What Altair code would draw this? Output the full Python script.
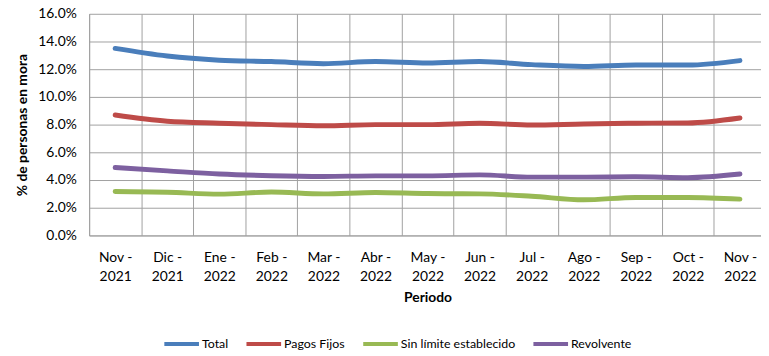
import altair as alt
import pandas as pd

periodos = ["Nov -|2021", "Dic -|2021", "Ene -|2022", "Feb -|2022", "Mar -|2022",
            "Abr -|2022", "May -|2022", "Jun -|2022", "Jul -|2022", "Ago -|2022",
            "Sep -|2022", "Oct -|2022", "Nov -|2022"]

total = [13.5, 12.95, 12.65, 12.55, 12.4, 12.55, 12.45, 12.55, 12.33, 12.2, 12.3, 12.3, 12.62]
pagos_fijos = [8.69, 8.24, 8.1, 8.0, 7.92, 8.0, 8.0, 8.1, 7.97, 8.05, 8.1, 8.12, 8.48]
sin_limite = [3.17, 3.12, 2.98, 3.13, 3.0, 3.1, 3.02, 3.0, 2.83, 2.57, 2.74, 2.74, 2.62]
revolvente = [4.9, 4.66, 4.43, 4.31, 4.26, 4.3, 4.3, 4.37, 4.21, 4.21, 4.24, 4.17, 4.43]

series = ["Total", "Pagos Fijos", "Sin límite establecido", "Revolvente"]
colores = ["#4A7EBB", "#BE4B48", "#98B954", "#7D60A0"]

rows = []
for name, vals in zip(series, [total, pagos_fijos, sin_limite, revolvente]):
    for p, v in zip(periodos, vals):
        rows.append({"Periodo": p, "Serie": name, "valor": v / 100.0})
df = pd.DataFrame(rows)

FONT = "Lato"
GRID = "#A0A0A0"

chart = alt.Chart(df).mark_line(
    interpolate="monotone", strokeWidth=5, strokeCap="round"
).encode(
    x=alt.X("Periodo:N", sort=periodos, bandPosition=0.5,
            scale=alt.Scale(type="band", paddingInner=0, paddingOuter=0, range=[0, 684]),
            axis=alt.Axis(title="Periodo", labelAngle=0, tickBand="extent",
                          labelExpr="isValid(datum.value) ? split(datum.value, '|') : ''",
                          labelLineHeight=20, labelPadding=15, ticks=False,
                          labelOverlap=False,
                          labelFont=FONT, labelFontSize=14, labelColor="#000000",
                          titleFont=FONT, titleFontSize=14, titleFontWeight="bold",
                          titleColor="#000000", titlePadding=7,
                          domainColor=GRID, gridColor=GRID, grid=True)),
    y=alt.Y("valor:Q",
            scale=alt.Scale(domain=[0, 0.16], nice=False),
            axis=alt.Axis(title="% de personas en mora", format=".1%",
                          values=[0, 0.02, 0.04, 0.06, 0.08, 0.1, 0.12, 0.14, 0.16],
                          ticks=False, labelPadding=13, labelOverlap=False,
                          labelFont=FONT, labelFontSize=14, labelColor="#000000",
                          titleFont=FONT, titleFontSize=14, titleFontWeight="bold",
                          titleColor="#000000", titlePadding=8,
                          domainColor=GRID, gridColor=GRID, grid=True)),
    color=alt.Color("Serie:N", sort=series,
                    scale=alt.Scale(domain=series, range=colores),
                    legend=alt.Legend(title=None, orient="none", direction="horizontal",
                                      legendX=74, legendY=314,
                                      symbolType="stroke", symbolSize=1225,
                                      symbolStrokeWidth=4, labelOffset=1,
                                      columnPadding=10,
                                      labelFont=FONT, labelFontSize=12.5,
                                      labelColor="#000000")),
).properties(
    width=679, height=224,
    autosize=alt.AutoSizeParams(type="none"),
    padding={"left": 82, "top": 4, "right": 0, "bottom": 120},
).configure_view(
    stroke=None
)

chart.save("out.html", embed_options={"renderer": "svg", "actions": False})
